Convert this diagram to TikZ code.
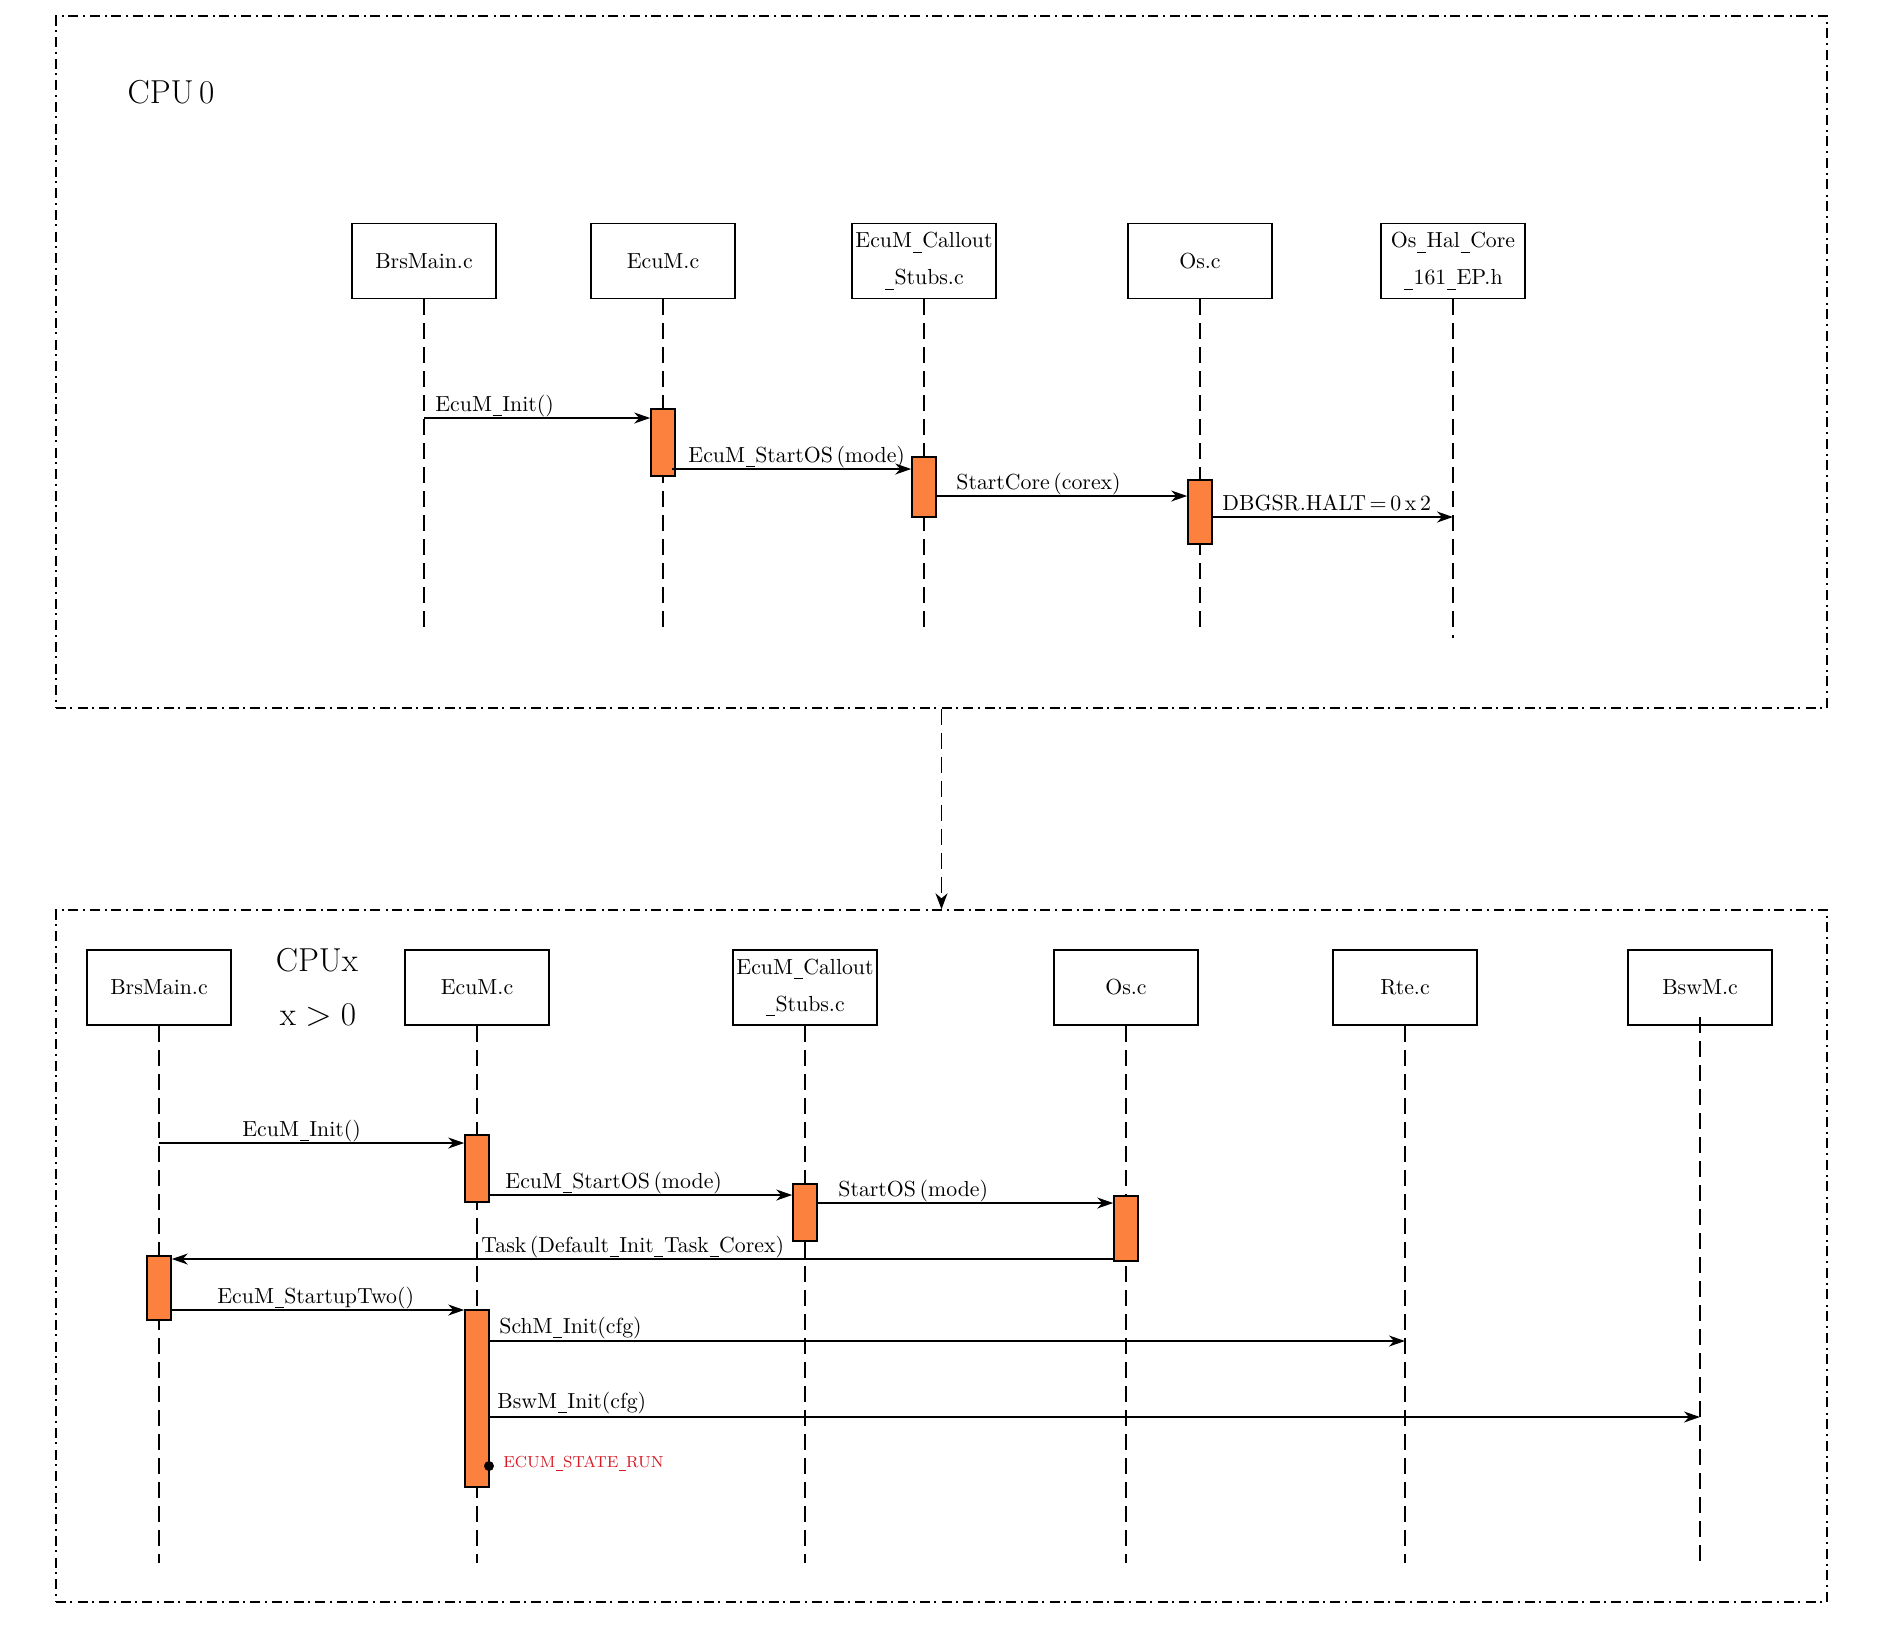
\documentclass[tikz,border=0pt]{standalone}
\usetikzlibrary{arrows.meta}
\definecolor{actorange}{RGB}{252,128,62}
\definecolor{runred}{RGB}{215,25,35}
\newcommand{\us}{\leavevmode\kern.03em\rule[-.24em]{.41em}{.045em}\kern.03em}
\begin{document}
\begin{tikzpicture}[x=0.5pt,y=-0.5pt,
  lbl/.style={font=\fontsize{10.9}{13}\selectfont, inner sep=0pt, anchor=base west},
  obj/.style={draw, line width=0.8pt, minimum width=72pt, minimum height=37.5pt, inner sep=0pt, align=center, font=\fontsize{10.9}{18.5}\selectfont},
  act/.style={draw, line width=0.8pt, fill=actorange, minimum width=12pt, inner sep=0pt},
  life/.style={line width=0.75pt, dash pattern=on 8pt off 4pt},
  msg/.style={line width=0.65pt, -{Stealth[length=8pt,width=5.5pt,inset=2.5pt]}},
  frame/.style={draw, line width=0.7pt, dash pattern=on 5pt off 2.2pt on 1pt off 2.6pt, minimum width=885.5pt, minimum height=346pt, inner sep=0pt},
  big/.style={font=\fontsize{16.6}{19}\selectfont, inner sep=0pt}
]
\useasboundingbox (0,0) rectangle (1880,1624);

% frames
\node[frame] (F0) at (941.5,362) {};
\node[frame] (F1) at (941.5,1256) {};
\draw[line width=0.75pt, dash pattern=on 8pt off 4pt, -{Stealth[length=8pt,width=6pt,inset=2.5pt]}] (F0.south) -- (F1.north);

% ---------------- CPU 0 ----------------
\node[big] (cpu0) at (171,92) {CPU\,0};

\node[obj] (tBrs) at (424,261) {BrsMain.c};
\node[obj] (tEcu) at (663,261) {EcuM.c};
\node[obj] (tCal) at (924,261) {EcuM\us Callout\\\us Stubs.c};
\node[obj] (tOs)  at (1200,261) {Os.c};
\node[obj] (tHal) at (1453,261) {Os\us Hal\us Core\\\us 161\us EP.h};

\coordinate (tEnd) at (0,627);
\coordinate (tEndH) at (0,638);
\foreach \n in {tBrs,tEcu,tCal,tOs} \draw[life] (\n.south) -- (\n.south |- tEnd);
\draw[life] (tHal.south) -- (tHal.south |- tEndH);

\node[act, minimum height=33.5pt] (tA1) at (663,442.5) {};
\node[act, minimum height=30pt]   (tA2) at (924,487) {};
\node[act, minimum height=32pt]   (tA3) at (1200,512) {};

\coordinate (tm1) at (424,418);
\coordinate (tm2) at (672,469);
\coordinate (tm3) at (936,496);
\coordinate (tm4) at (1212,517);
\draw[msg] (tm1 -| tBrs.south) -- (tm1 -| tA1.west);
\draw[msg] (tm2) -- (tm2 -| tA2.west);
\draw[msg] (tm3 -| tA2.east) -- (tm3 -| tA3.west);
\draw[msg] (tm4 -| tA3.east) -- (tm4 -| tHal.south);

\node[lbl] (tl1) at (435,411) {EcuM\us Init()};
\node[lbl] (tl2) at (688,462) {EcuM\us StartOS\,(mode)};
\node[lbl] (tl3) at (956,489) {StartCore\,(corex)};
\node[lbl] (tl4) at (1222,510) {DBGSR.HALT\,$=$\,0\,x\,2};

% ---------------- CPU x ----------------
\node[big] (cpux) at (317,960) {CPUx};
\node[big] (xgt) at (318,1015) {x\;$>$\;0};

\node[obj] (bBrs) at (159,987.5) {BrsMain.c};
\node[obj] (bEcu) at (477,987.5) {EcuM.c};
\node[obj] (bCal) at (805,987.5) {EcuM\us Callout\\\us Stubs.c};
\node[obj] (bOs)  at (1126,987.5) {Os.c};
\node[obj] (bRte) at (1405,987.5) {Rte.c};
\node[obj] (bBsw) at (1700,987.5) {BswM.c};

\coordinate (bEnd) at (0,1563);
\coordinate (bBswStart) at (1700,1017);
\foreach \n in {bBrs,bEcu,bCal,bOs,bRte} \draw[life] (\n.south) -- (\n.south |- bEnd);
\draw[life] (bBswStart) -- (bBswStart |- bEnd);

\node[act, minimum height=33.5pt] (bA1) at (477,1168.5) {};
\node[act, minimum height=28.5pt] (bA2) at (805,1212.5) {};
\node[act, minimum height=32.5pt] (bA3) at (1126,1228.5) {};
\node[act, minimum height=32pt]   (bA4) at (159,1288) {};
\node[act, minimum height=88.5pt] (bA5) at (477,1398.5) {};

\coordinate (bm1) at (0,1143);
\coordinate (bm2) at (0,1195);
\coordinate (bm3) at (0,1203);
\coordinate (bm4) at (0,1259);
\coordinate (bm5) at (0,1310);
\coordinate (bm6) at (0,1341);
\coordinate (bm7) at (0,1417);
\draw[msg] (bm1 -| bBrs.south) -- (bm1 -| bA1.west);
\draw[msg] (bm2 -| bA1.east) -- (bm2 -| bA2.west);
\draw[msg] (bm3 -| bA2.east) -- (bm3 -| bA3.west);
\draw[msg] (bm4 -| bA3.west) -- (bm4 -| bA4.east);
\draw[msg] (bm5 -| bA4.east) -- (bm5 -| bA5.west);
\draw[msg] (bm6 -| bA5.east) -- (bm6 -| bRte.south);
\draw[msg] (bm7 -| bA5.east) -- (bm7 -| bBsw.south);

\node[lbl] (bl1) at (242,1136) {EcuM\us Init()};
\node[lbl] (bl2) at (505,1188) {EcuM\us StartOS\,(mode)};
\node[lbl] (bl3) at (838,1196) {StartOS\,(mode)};
\node[lbl] (bl4) at (481,1252) {Task\,(Default\us Init\us Task\us Corex)};
\node[lbl] (bl5) at (217,1303) {EcuM\us StartupTwo()};
\node[lbl] (bl6) at (499,1333) {SchM\us Init(cfg)};
\node[lbl] (bl7) at (497,1408) {BswM\us Init(cfg)};

\node[circle, fill=black, inner sep=0pt, minimum size=5pt] (rundot) at (489,1466) {};
\node[anchor=base west, inner sep=0pt, text=runred, font=\fontsize{8}{9.5}\selectfont] (runlbl) at (503,1467) {ECUM\us STATE\us RUN};
\end{tikzpicture}
\end{document}
